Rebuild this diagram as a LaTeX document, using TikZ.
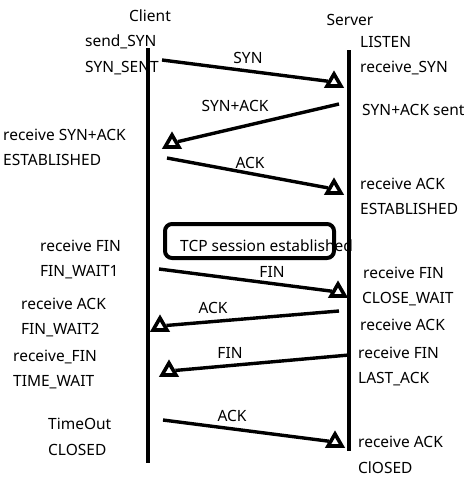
\documentclass[tikz,border=0pt]{standalone}
\usepackage{fontspec}
\setmainfont{Noto Sans}
\usetikzlibrary{shapes.geometric}

\begin{document}
\begin{tikzpicture}[
    x=1pt,y=-1pt,
    lbl/.style={anchor=west,inner sep=0pt,font=\fontsize{15.5}{17}\selectfont},
    tag/.style={inner sep=0pt,font=\fontsize{15.5}{17}\selectfont},
    life/.style={line width=4pt},
    msg/.style={line width=3.4pt},
    head/.style={draw,regular polygon,regular polygon sides=3,minimum size=16pt,inner sep=0pt,line width=3.6pt},
    sess/.style={draw,line width=4pt,rounded corners=7pt,minimum width=169pt,minimum height=34pt,inner sep=0pt}
  ]
    \useasboundingbox (0,0) rectangle (474,493);
    % lifelines
    \coordinate (ctop) at (148,48);
    \coordinate (cbot) at (148,463);
    \coordinate (stop) at (349,50);
    \coordinate (sbot) at (349,451);
    \draw[life] (ctop) -- (cbot);
    \draw[life] (stop) -- (sbot);
    \node[tag] (client) at (150,16) {Client};
    \node[tag] (server) at (350,20) {Server};

    % client side states
    \node[lbl] (c1) at (85,42) {send\_SYN};
    \node[lbl] (c2) at (85,68) {SYN\_SENT};
    \node[lbl] (c3) at (3,135) {receive SYN+ACK};
    \node[lbl] (c4) at (3,160) {ESTABLISHED};
    \node[lbl] (c5) at (40,246) {receive FIN};
    \node[lbl] (c6) at (40,272) {FIN\_WAIT1};
    \node[lbl] (c7) at (21,304) {receive ACK};
    \node[lbl] (c8) at (21,330) {FIN\_WAIT2};
    \node[lbl] (c9) at (13,357) {receive\_FIN};
    \node[lbl] (c10) at (13,382) {TIME\_WAIT};
    \node[lbl] (c11) at (48,424) {TimeOut};
    \node[lbl] (c12) at (48,450) {CLOSED};

    % server side states
    \node[lbl] (s1) at (360,42) {LISTEN};
    \node[lbl] (s2) at (360,68) {receive\_SYN};
    \node[lbl] (s3) at (362,110) {SYN+ACK sent};
    \node[lbl] (s4) at (360,184) {receive ACK};
    \node[lbl] (s5) at (360,209) {ESTABLISHED};
    \node[lbl] (s6) at (363,273) {receive FIN};
    \node[lbl] (s7) at (362,299) {CLOSE\_WAIT};
    \node[lbl] (s8) at (360,325) {receive ACK};
    \node[lbl] (s9) at (358,353) {receive FIN};
    \node[lbl] (s10) at (358,379) {LAST\_ACK};
    \node[lbl] (s11) at (358,442) {receive ACK};
    \node[lbl] (s12) at (358,468) {ClOSED};

    % message heads
    \node[head] (h1) at (334,82) {};
    \node[head] (h2) at (172,143) {};
    \node[head] (h3) at (334,189) {};
    \node[head] (h4) at (338,292) {};
    \node[head] (h5) at (160,326) {};
    \node[head] (h6) at (169,371) {};
    \node[head] (h7) at (335,442) {};

    % messages
    \coordinate (m1) at (162,60);
    \coordinate (m2) at (339,104);
    \coordinate (m3) at (167,158);
    \coordinate (m4) at (159,269);
    \coordinate (m5) at (339,311);
    \coordinate (m6) at (349,355);
    \coordinate (m7) at (163,420);
    \draw[msg] (m1) -- (h1);
    \draw[msg] (m2) -- (h2);
    \draw[msg] (m3) -- (h3);
    \draw[msg] (m4) -- (h4);
    \draw[msg] (m5) -- (h5);
    \draw[msg] (m6) -- (h6);
    \draw[msg] (m7) -- (h7);
    \node[tag] (l1) at (248,58) {SYN};
    \node[tag] (l2) at (235,106) {SYN+ACK};
    \node[tag] (l3) at (250,163) {ACK};
    \node[tag] (l4) at (272,272) {FIN};
    \node[tag] (l5) at (213,308) {ACK};
    \node[tag] (l6) at (230,353) {FIN};
    \node[tag] (l7) at (232,416) {ACK};

    % session box
    \node[sess] (box) at (249.5,241) {};
    \node[lbl] (sesstxt) at (180,246) {TCP session established};
  \end{tikzpicture}
\end{document}
